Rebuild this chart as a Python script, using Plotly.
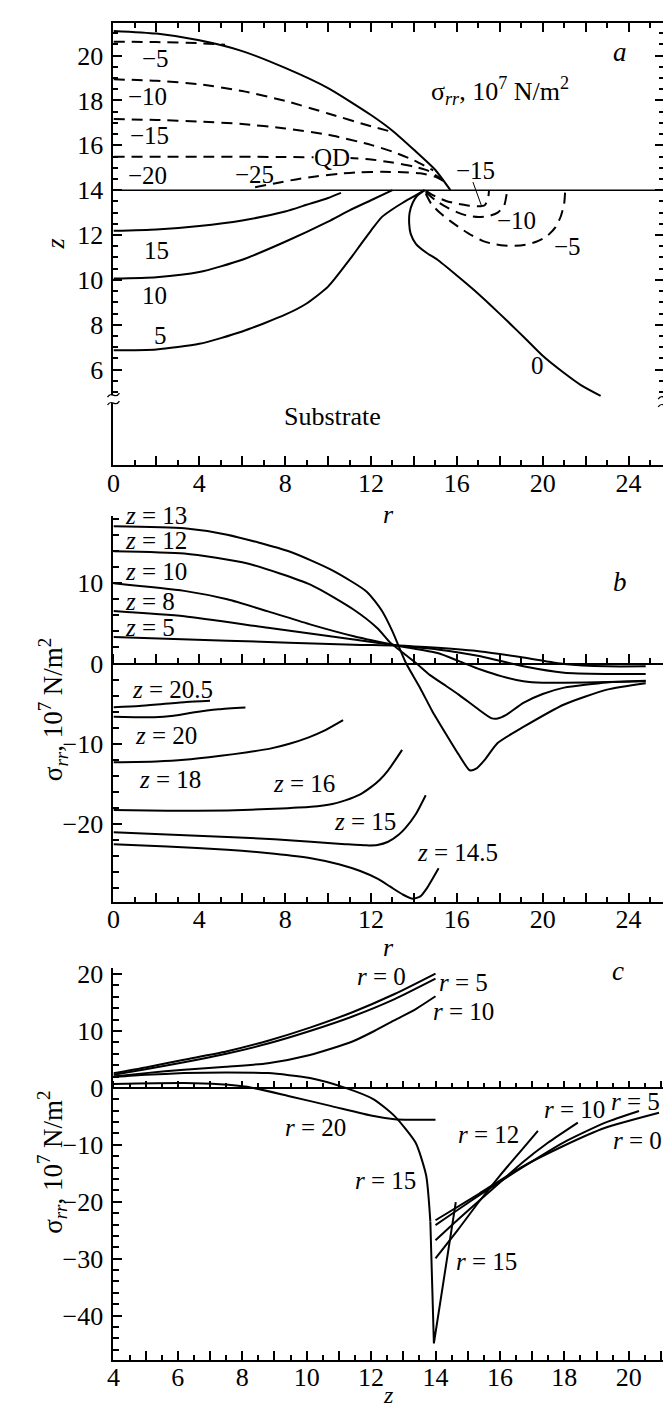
import plotly.graph_objects as go

W, H = 671, 1408

# ================= panel a : sigma_rr contours in the (r, z) plane =================
qd_r = [0, 2, 4, 6, 8, 10, 12, 13, 14, 15, 15.7]
qd_z = [21.1, 20.98, 20.68, 20.2, 19.45, 18.55, 17.35, 16.65, 15.8, 14.9, 14.0]
interface_z = 14

# dashed (negative) contours inside the QD
m5_r = [0, 2, 4, 5.2]
m5_z = [20.62, 20.6, 20.55, 20.48]
m10_r = [0, 2, 4, 6, 8, 10, 12, 12.9]
m10_z = [18.94, 18.88, 18.72, 18.42, 17.98, 17.42, 16.85, 16.62]
m15_r = [0, 2, 4, 6, 8, 10, 12, 13, 14, 14.9]
m15_z = [17.17, 17.13, 17.06, 16.95, 16.75, 16.47, 16.02, 15.72, 15.33, 14.88]
m20_r = [0, 4, 8, 10, 11, 12, 13, 14, 14.7, 15.35]
m20_z = [15.49, 15.49, 15.48, 15.46, 15.43, 15.37, 15.23, 15.05, 14.85, 14.45]
m25_r = [6.6, 7.5, 8.5, 9.5, 10.5, 11.5, 12.5, 13.5, 14.3, 15.0, 15.4]
m25_z = [14.13, 14.3, 14.48, 14.62, 14.73, 14.8, 14.82, 14.8, 14.75, 14.6, 14.4]
# dashed contours below the interface (right of the QD)
m15b_r = [14.55, 15.0, 15.5, 16.0, 16.5, 17.0, 17.3, 17.45, 17.5]
m15b_z = [13.97, 13.72, 13.52, 13.4, 13.32, 13.28, 13.33, 13.6, 14.0]
m10b_r = [14.55, 15.0, 15.5, 16.0, 16.5, 17.0, 17.5, 17.9, 18.2, 18.35]
m10b_z = [13.92, 13.55, 13.25, 13.02, 12.86, 12.8, 12.85, 13.0, 13.3, 14.0]
m5b_r = [14.55, 14.8, 15.2, 15.7, 16.2, 16.7, 17.2, 17.7, 18.2, 18.7, 19.2, 19.7,
         20.2, 20.6, 20.85, 21.0, 21.05]
m5b_z = [13.85, 13.4, 13.0, 12.62, 12.28, 11.98, 11.74, 11.6, 11.53, 11.52, 11.57,
         11.7, 11.95, 12.35, 12.85, 13.4, 14.0]
# solid (positive / zero) contours in the substrate
p15_r = [0, 2, 4, 6, 8, 9, 10, 10.6]
p15_z = [12.19, 12.25, 12.4, 12.65, 13.05, 13.35, 13.65, 13.88]
p10_r = [0, 2, 4, 6, 8, 10, 11, 12, 13]
p10_z = [10.06, 10.12, 10.35, 10.9, 11.7, 12.6, 13.1, 13.55, 14.0]
p5_r = [0, 2, 4, 6, 8, 9, 10, 11, 11.5, 12, 12.5, 13, 13.5, 14, 14.5]
p5_z = [6.86, 6.9, 7.15, 7.7, 8.45, 8.95, 9.7, 10.9, 11.55, 12.2, 12.8, 13.15, 13.45, 13.72, 14.0]
p0_r = [14.5, 14.15, 13.95, 13.8, 13.78, 13.85, 14.1, 14.6, 15.1, 16.0, 16.8, 17.6,
        18.4, 19.2, 20.0, 21.0, 21.8, 22.7]
p0_z = [14.0, 13.75, 13.45, 13.0, 12.5, 12.05, 11.6, 11.2, 10.9, 10.2, 9.55, 8.85,
        8.12, 7.38, 6.62, 5.85, 5.3, 4.83]
lead_r = [16.75, 17.15]
lead_z = [14.36, 13.3]

a_lab_text = ["\u22125", "\u221210", "\u221215", "\u221220", "\u221225", "\u221215",
              "\u221210", "\u22125", "15", "10", "5", "0"]
a_lab_r = [1.95, 1.6, 1.7, 1.6, 6.55, 16.85, 18.8, 21.15, 2.0, 1.9, 2.2, 19.76]
a_lab_z = [19.86, 18.17, 16.42, 14.64, 14.71, 14.86, 12.66, 11.48, 11.3, 9.3, 7.52, 6.19]

a_xticks = [0, 2, 4, 6, 8, 10, 12, 14, 16, 18, 20, 22, 24]
a_xticktext = ["0", "", "4", "", "8", "", "12", "", "16", "", "20", "", "24"]
a_yticks = [6, 8, 10, 12, 14, 16, 18, 20]
a_yminor = [5 + 0.5 * i for i in range(33)]

# ================= panel b : sigma_rr(r) at fixed z =================
b_r13 = [0, 3.3, 5.3, 8.2, 10.2, 11.8, 12.5, 13.0, 13.3, 13.64, 14.3, 14.85, 15.5,
         16.1, 16.6, 16.9, 17.3, 17.9, 19.1, 21.0, 23.0, 24.8]
b_s13 = [17.1, 16.85, 16.05, 13.95, 11.6, 8.95, 6.6, 4.0, 2.1, 0.0, -3.1, -5.9, -8.8,
         -11.4, -13.3, -13.1, -12.0, -9.9, -7.9, -5.1, -3.25, -2.45]
b_r12 = [0, 3.3, 6.25, 9.2, 11.2, 12.3, 12.9, 13.5, 14.12, 14.75, 15.5, 16.1, 17.0,
         17.6, 17.9, 18.3, 19.1, 20.0, 21.0, 23.0, 24.8]
b_s12 = [14.0, 13.7, 12.45, 9.8, 6.7, 4.4, 2.6, 1.3, 0.0, -1.45, -2.8, -3.9, -5.7,
         -6.8, -6.85, -6.4, -4.9, -3.8, -3.0, -2.35, -2.15]
b_r10 = [0, 3.3, 5.3, 7.2, 9.2, 11.2, 13.2, 15.1, 16.1, 17.1, 18.1, 19.1, 20.0, 21.0, 23.0, 24.8]
b_s10 = [10.0, 9.05, 8.0, 6.5, 4.85, 3.4, 2.25, 1.3, 0.3, -0.75, -1.6, -2.2, -2.4, -2.4, -2.3, -2.2]
b_r8 = [0, 3.3, 7.2, 11.2, 13.2, 15.1, 17.1, 19.1, 21.0, 23.0, 24.8]
b_s8 = [6.55, 5.9, 4.45, 3.0, 2.25, 1.75, 0.9, -0.35, -1.15, -1.3, -1.3]
b_r5 = [0, 5.3, 11.2, 13.2, 15.1, 17.1, 19.1, 21.0, 23.0, 24.8]
b_s5 = [3.3, 2.85, 2.35, 2.25, 1.95, 1.5, 0.75, -0.05, -0.35, -0.35]
b_r205 = [0, 1.2, 2.3, 3.4, 4.5]
b_s205 = [-5.45, -5.3, -5.05, -4.8, -4.65]
b_r20 = [0, 1, 1.9, 2.8, 3.7, 4.9, 6.15]
b_s20 = [-6.63, -6.68, -6.7, -6.5, -6.1, -5.7, -5.48]
b_r18 = [0, 2, 3.3, 5, 6.25, 7.3, 8.2, 9.1, 9.8, 10.7]
b_s18 = [-12.3, -12.2, -12.0, -11.5, -11.05, -10.6, -10.0, -9.2, -8.4, -7.05]
b_r16 = [0, 2.5, 5.3, 7.5, 9.2, 10.2, 10.8, 11.5, 12.0, 12.4, 12.8, 13.45]
b_s16 = [-18.25, -18.35, -18.3, -18.1, -17.85, -17.5, -17.05, -16.3, -15.4, -14.5, -13.3, -10.75]
b_r15 = [0, 2.5, 5.3, 7.5, 9.2, 10.8, 11.8, 12.3, 12.8, 13.3, 13.6, 14.1, 14.55]
b_s15 = [-21.0, -21.3, -21.6, -21.9, -22.2, -22.5, -22.65, -22.6, -22.2, -21.3, -20.5, -18.7, -16.4]
b_r145 = [0, 2.5, 5.3, 7.5, 9.2, 10.5, 11.5, 12.3, 12.9, 13.5, 13.95, 14.3, 14.6, 15.15]
b_s145 = [-22.5, -22.8, -23.2, -23.7, -24.25, -25.0, -25.85, -26.8, -27.8, -28.8, -29.3,
          -29.0, -28.0, -25.5]

b_lab_text = ["13", "12", "10", "8", "5", "20.5", "20", "18", "16", "15", "14.5"]
b_lab_r = [0.45, 0.45, 0.45, 0.45, 0.45, 0.75, 0.9, 1.1, 7.35, 10.2, 14.05]
b_lab_s = [18.4, 15.37, 11.44, 7.72, 4.5, -3.2, -9.0, -14.4, -15.0, -19.7, -23.6]

b_xticks = [0, 2, 4, 6, 8, 10, 12, 14, 16, 18, 20, 22, 24]
b_yticks = [-20, -10, 0, 10]

# ================= panel c : sigma_rr(z) at fixed r =================
c_z0 = [4, 5, 6.19, 7.5, 8.8, 10.1, 11.42, 12.73, 14.0]
c_s0 = [2.6, 3.6, 4.95, 6.4, 8.3, 10.6, 13.3, 16.5, 20.1]
c_z5 = [4, 5, 6.19, 7.5, 8.8, 10.1, 11.42, 12.73, 14.0]
c_s5 = [2.3, 3.3, 4.5, 6.0, 7.8, 10.0, 12.55, 15.6, 19.2]
c_z10 = [4, 5, 6.19, 7.5, 8.8, 10.1, 11.42, 12.1, 12.73, 13.4, 14.0]
c_s10 = [2.0, 2.6, 3.2, 3.7, 4.35, 5.8, 8.15, 10.0, 11.9, 13.9, 16.1]
c_z15 = [4, 5, 6.19, 7.5, 8.8, 10.1, 11.16, 12.08, 12.73, 13.38, 13.71, 13.84, 13.95, 14.63]
c_s15 = [1.9, 2.3, 2.6, 2.7, 2.6, 1.75, 0.1, -2.0, -4.95, -9.6, -15.4, -23.5, -44.9, -20.05]
c_z20 = [4, 6.19, 7.3, 8.15, 9.46, 10.77, 12.08, 12.73, 13.2, 14.0]
c_s20 = [0.7, 0.85, 0.65, 0.2, -1.45, -3.2, -4.95, -5.5, -5.6, -5.6]
c_z0b = [14.0, 15.35, 16.66, 17.97, 19.27, 20.94]
c_s0b = [-23.25, -18.6, -13.95, -10.2, -7.0, -4.35]
c_z5b = [14.0, 15.35, 16.66, 17.97, 19.27, 20.32]
c_s5b = [-24.1, -18.9, -14.1, -9.6, -6.1, -4.05]
c_z10b = [14.0, 14.7, 15.4, 16.0, 16.7, 17.5, 18.42]
c_s10b = [-26.75, -23.1, -19.6, -16.6, -13.1, -9.6, -6.1]
c_z12b = [14.0, 14.7, 15.35, 16.0, 16.6, 17.18]
c_s12b = [-29.95, -24.9, -20.0, -15.4, -11.4, -7.55]

c_lab_text = ["0", "5", "10", "20", "15", "15", "12", "10", "5", "0"]
c_lab_z = [11.5, 14.05, 13.85, 9.27, 11.43, 14.57, 14.64, 17.3, 19.4, 19.45]
c_lab_s = [19.6, 18.6, 13.37, -7.0, -16.3, -30.5, -8.1, -3.8, -2.3, -9.3]

c_xticks = [4, 5, 6, 7, 8, 9, 10, 11, 12, 13, 14, 15, 16, 17, 18, 19, 20, 21]
c_yticks = [-40, -30, -20, -10, 0, 10, 20]

# ================= layout geometry (pixels of the 671 x 1408 page) =================
def px(x):
    return x / W

def py(y):
    return 1 - y / H

XDOM = [px(99.5), px(656)]
A_YDOM = [py(452.7), py(8.3)]
B_YDOM = [py(891), py(503.3)]
C_YDOM = [py(1351.7), py(957.3)]
A_XR, A_YR = [0, 25.66], [1.73, 21.44]
B_XR, B_YR = [0, 25.66], [-29.65, 18.4]
C_XR, C_YR = [4, 21.1], [-47.8, 21.15]

FONT = "Liberation Serif, Times New Roman, serif"
TF = 26
LF = 25

fig = go.Figure()


def curve(x, y, xa, ya, dash=None, width=2.0, spline=True):
    fig.add_trace(go.Scatter(
        x=x, y=y, mode="lines", xaxis=xa, yaxis=ya, hoverinfo="skip",
        showlegend=False,
        line=dict(color="black", width=width, dash=dash,
                  shape="spline" if spline else "linear", smoothing=0.6)))


DASH = "11px,7px"
# panel a
curve(qd_r, qd_z, "x", "y")
for rr, zz in [(m5_r, m5_z), (m10_r, m10_z), (m15_r, m15_z), (m20_r, m20_z),
               (m25_r, m25_z), (m15b_r, m15b_z), (m10b_r, m10b_z), (m5b_r, m5b_z)]:
    curve(rr, zz, "x", "y", dash=DASH, width=2.0)
for rr, zz in [(p15_r, p15_z), (p10_r, p10_z), (p5_r, p5_z), (p0_r, p0_z)]:
    curve(rr, zz, "x", "y")
curve(lead_r, lead_z, "x", "y", width=1.0, spline=False)

# panel b
for rr, ss in [(b_r13, b_s13), (b_r12, b_s12), (b_r10, b_s10), (b_r8, b_s8), (b_r5, b_s5),
               (b_r205, b_s205), (b_r20, b_s20), (b_r18, b_s18), (b_r16, b_s16),
               (b_r15, b_s15), (b_r145, b_s145)]:
    curve(rr, ss, "x2", "y2")

# panel c
for zz, ss in [(c_z0, c_s0), (c_z5, c_s5), (c_z10, c_s10), (c_z20, c_s20),
               (c_z0b, c_s0b), (c_z5b, c_s5b), (c_z10b, c_s10b), (c_z12b, c_s12b)]:
    curve(zz, ss, "x3", "y3")
curve(c_z15[:-2], c_s15[:-2], "x3", "y3")
curve(c_z15[-3:], c_s15[-3:], "x3", "y3", spline=False)

# invisible traces so that the zero-line axes are drawn
fig.add_trace(go.Scatter(x=[None], y=[None], xaxis="x4", yaxis="y2", showlegend=False))
fig.add_trace(go.Scatter(x=[None], y=[None], xaxis="x5", yaxis="y3", showlegend=False))

AX = dict(showline=True, linecolor="black", linewidth=2, showgrid=False, zeroline=False,
          ticks="inside", tickcolor="black", tickwidth=1.5, ticklen=9,
          tickfont=dict(family=FONT, size=TF, color="black"))
XAX = dict(AX, ticklabelstandoff=-7)
YAX = dict(AX, ticklabelstandoff=3)


def zero_pos(dom, rng):
    return dom[0] + (0 - rng[0]) / (rng[1] - rng[0]) * (dom[1] - dom[0])


layout_axes = dict(
    xaxis=dict(XAX, domain=XDOM, range=A_XR, anchor="y", mirror="ticks",
               tickmode="array", tickvals=a_xticks, ticktext=a_xticktext,
               minor=dict(dtick=1, tick0=0, ticklen=5, tickwidth=1.5, ticks="inside",
                          tickcolor="black")),
    yaxis=dict(YAX, domain=A_YDOM, range=A_YR, anchor="x", mirror="ticks",
               tickmode="array", tickvals=a_yticks,
               minor=dict(tickmode="array", tickvals=a_yminor, ticklen=5, tickwidth=1.5,
                          ticks="inside", tickcolor="black")),
    xaxis2=dict(XAX, domain=XDOM, range=B_XR, anchor="y2",
                tickmode="array", tickvals=b_xticks, ticktext=a_xticktext,
                minor=dict(dtick=1, tick0=0, ticklen=5, tickwidth=1.5, ticks="inside",
                           tickcolor="black")),
    yaxis2=dict(YAX, domain=B_YDOM, range=B_YR, anchor="x2",
                tickmode="array", tickvals=b_yticks,
                ticktext=["\u221220", "\u221210", "0", "10"],
                minor=dict(dtick=2, tick0=0, ticklen=6, tickwidth=1.5, ticks="inside",
                           tickcolor="black")),
    xaxis3=dict(XAX, domain=XDOM, range=C_XR, anchor="y3",
                tickmode="array", tickvals=c_xticks,
                ticktext=[str(v) if v % 2 == 0 else "" for v in c_xticks],
                minor=dict(dtick=0.5, tick0=0, ticklen=5, tickwidth=1.5, ticks="inside",
                           tickcolor="black")),
    yaxis3=dict(YAX, domain=C_YDOM, range=C_YR, anchor="x3",
                tickmode="array", tickvals=c_yticks,
                ticktext=["\u221240", "\u221230", "\u221220", "\u221210", "0", "10", "20"],
                minor=dict(dtick=2, tick0=0, ticklen=6, tickwidth=1.5, ticks="inside",
                           tickcolor="black")),
    xaxis4=dict(showline=True, linecolor="black", linewidth=2, showgrid=False,
                zeroline=False, overlaying="x2", anchor="free", side="top",
                position=zero_pos(B_YDOM, B_YR), range=B_XR, ticks="outside",
                tickcolor="black", tickwidth=1.5, ticklen=9, showticklabels=False,
                tickmode="array", tickvals=b_xticks,
                minor=dict(dtick=1, tick0=0, ticklen=5, tickwidth=1.5, ticks="outside",
                           tickcolor="black")),
    xaxis5=dict(showline=True, linecolor="black", linewidth=2, showgrid=False,
                zeroline=False, overlaying="x3", anchor="free", side="top",
                position=zero_pos(C_YDOM, C_YR), range=C_XR, ticks="outside",
                tickcolor="black", tickwidth=1.5, ticklen=6, showticklabels=False,
                tickmode="array", tickvals=c_xticks,
                minor=dict(dtick=0.5, tick0=0, ticklen=4, tickwidth=1.5, ticks="outside",
                           tickcolor="black")),
)

ann = []


def txt(x, y, s, xref, yref, size=LF, xanchor="center", yanchor="middle", angle=0,
        bg=None):
    d = dict(x=x, y=y, text=s, xref=xref, yref=yref, showarrow=False, xanchor=xanchor,
             yanchor=yanchor, textangle=angle,
             font=dict(family=FONT, size=size, color="black"))
    if bg:
        d.update(bgcolor=bg, borderpad=0)
    ann.append(d)


for t, r, z in zip(a_lab_text, a_lab_r, a_lab_z):
    txt(r, z, t, "x", "y")
txt(10.2, 15.44, "QD", "x", "y", bg="white")
txt(10.2, 3.92, "Substrate", "x", "y", size=26)
txt(23.6, 20.15, "<i>a</i>", "x", "y", size=27)
txt(14.7, 18.4, "\u03c3<sub><i>rr</i></sub>, 10<sup>7</sup> N/m<sup>2</sup>", "x", "y",
    xanchor="left", size=26)

for t, r, s in zip(b_lab_text, b_lab_r, b_lab_s):
    txt(r, s, "<i>z</i> = " + t, "x2", "y2", xanchor="left")
txt(23.6, 10.2, "<i>b</i>", "x2", "y2", size=27)

for t, z, s in zip(c_lab_text, c_lab_z, c_lab_s):
    txt(z, s, "<i>r</i> = " + t, "x3", "y3", xanchor="left")
txt(19.67, 20.6, "<i>c</i>", "x3", "y3", size=27)

XMID = (XDOM[0] + XDOM[1]) / 2
txt(px(41), py(230), "<i>z</i>", "paper", "paper", size=26, angle=-90)
txt(XMID, py(501.7), "<i>r</i>", "paper", "paper", size=26)
txt(XMID, py(936.7), "<i>r</i>", "paper", "paper", size=26)
txt(XMID, py(1387), "<i>z</i>", "paper", "paper", size=24)
YT = "\u03c3<sub><i>rr</i></sub>, 10<sup>7</sup> N/m<sup>2</sup>"
txt(px(38), py(698), YT, "paper", "paper", size=27, angle=-90)
txt(px(38), py(1153), YT, "paper", "paper", size=27, angle=-90)

# shapes: interface line z = 14 and axis-break marks
shapes = [dict(type="line", xref="x domain", yref="y", x0=0, x1=1, y0=interface_z,
               y1=interface_z, line=dict(color="black", width=1.5))]


def brk(xc, yc):
    shapes.append(dict(type="rect", xref="paper", yref="paper", x0=px(xc - 3), x1=px(xc + 3),
                       y0=py(yc + 4), y1=py(yc - 4), line=dict(width=0),
                       fillcolor="white", layer="above"))
    for dy in (-4, 4):
        y0 = yc + dy
        path = "M {:.5f},{:.5f} C {:.5f},{:.5f} {:.5f},{:.5f} {:.5f},{:.5f}".format(
            px(xc - 6), py(y0 + 2), px(xc - 2), py(y0 - 5), px(xc + 2), py(y0 + 5),
            px(xc + 6), py(y0 - 2))
        shapes.append(dict(type="path", xref="paper", yref="paper", path=path,
                           line=dict(color="black", width=1.3), layer="above"))


brk(99.5, 386)
brk(656, 388)

fig.update_layout(
    width=W, height=H, margin=dict(l=0, r=0, t=0, b=0), paper_bgcolor="white",
    plot_bgcolor="white", showlegend=False, annotations=ann, shapes=shapes,
    font=dict(family=FONT, size=TF, color="black"), **layout_axes)

fig.write_html("out.html")
